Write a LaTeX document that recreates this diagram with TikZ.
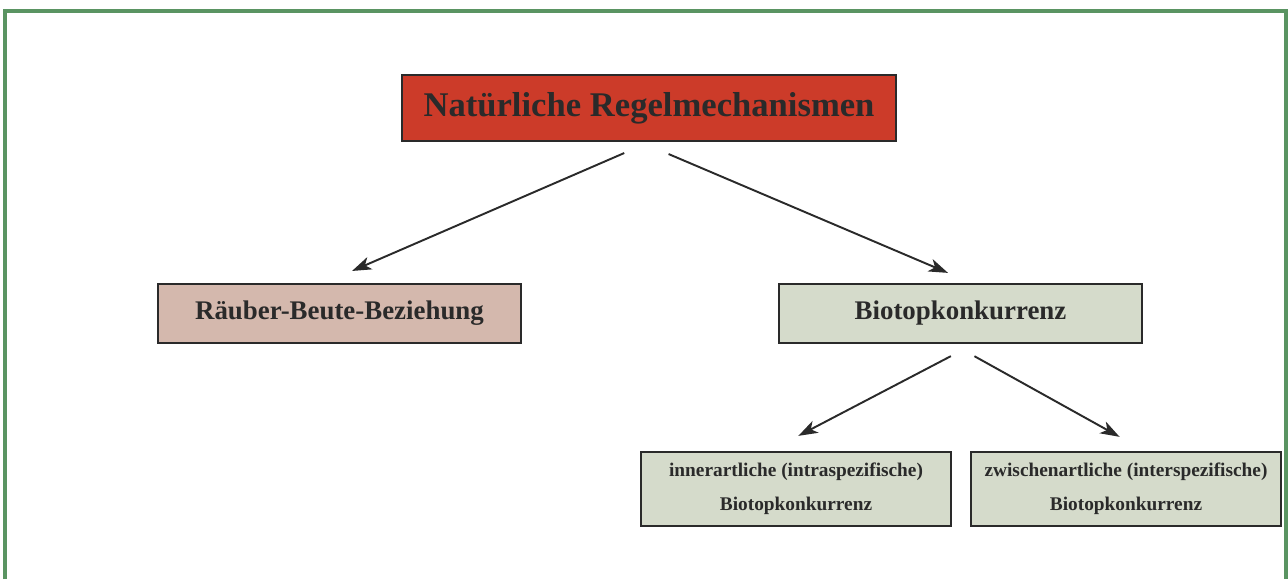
\documentclass[tikz,border=0pt]{standalone}
\usepackage{fontspec}
\setmainfont{Liberation Serif}
\usetikzlibrary{arrows.meta}

\definecolor{rahmen}{HTML}{5A9462}
\definecolor{kopfrot}{HTML}{CC3B29}
\definecolor{beuterosa}{HTML}{D4B8AD}
\definecolor{biotopgrau}{HTML}{D5DBCB}
\definecolor{tinte}{HTML}{2A2A2A}

\tikzset{
  kasten/.style={draw=tinte, line width=1.5pt, text=tinte, inner sep=0pt, align=center},
  pfeil/.style={draw=tinte, line width=1.1pt, -{Stealth[length=11pt,width=7.5pt,inset=3pt]}}
}

\begin{document}
\begin{tikzpicture}
    \useasboundingbox (0,0) rectangle (25.76,11.58);
    \draw[rahmen, line width=1.8pt] (0.1,0) -- (0.1,11.36) -- (25.72,11.36) -- (25.72,0);

    % Kopf
    \node[kasten, fill=kopfrot, minimum width=9.88cm, minimum height=1.32cm,
          font=\bfseries\fontsize{19.7}{24}\selectfont] (regel) at (12.98,9.42)
          {Natürliche Regelmechanismen};

    % zweite Ebene
    \node[kasten, fill=beuterosa, minimum width=7.26cm, minimum height=1.18cm,
          font=\bfseries\fontsize{15.3}{18}\selectfont] (raeuber) at (6.79,5.31)
          {Räuber-Beute-Beziehung};
    \node[kasten, fill=biotopgrau, minimum width=7.26cm, minimum height=1.18cm,
          font=\bfseries\fontsize{15.3}{18}\selectfont] (biotop) at (19.21,5.31)
          {Biotopkonkurrenz};

    % dritte Ebene
    \node[kasten, fill=biotopgrau, minimum width=6.2cm, minimum height=1.48cm,
          font=\bfseries\fontsize{11}{19.5}\selectfont] (inner) at (15.92,1.80)
          {innerartliche (intraspezifische)\\Biotopkonkurrenz};
    \node[kasten, fill=biotopgrau, minimum width=6.2cm, minimum height=1.48cm,
          font=\bfseries\fontsize{11}{19.5}\selectfont] (zwischen) at (22.52,1.80)
          {zwischenartliche (interspezifische)\\Biotopkonkurrenz};

    \draw[pfeil, shorten <=0.54cm, shorten >=0.59cm] (regel.south) -- ([xshift=-0.29cm]raeuber.north);
    \draw[pfeil, shorten <=0.6cm, shorten >=0.5cm] ([xshift=-0.16cm]regel.south) -- ([xshift=0.21cm]biotop.north);
    \draw[pfeil, shorten <=0.51cm, shorten >=0.64cm] ([xshift=0.26cm]biotop.south) -- ([xshift=-0.52cm]inner.north);
    \draw[pfeil, shorten <=0.49cm, shorten >=0.57cm] ([xshift=-0.15cm]biotop.south) -- ([xshift=0.37cm]zwischen.north);
\end{tikzpicture}
\end{document}
